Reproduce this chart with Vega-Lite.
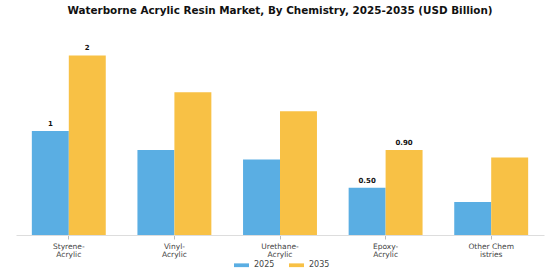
{
  "$schema": "https://vega.github.io/schema/vega-lite/v6.json",
  "width": 528,
  "height": 189,
  "autosize": "none",
  "padding": {"left": 16, "top": 46, "right": 16, "bottom": 45},
  "background": "white",
  "title": {
    "text": "Waterborne Acrylic Resin Market, By Chemistry, 2025-2035 (USD Billion)",
    "font": "DejaVu Sans",
    "fontSize": 10.4,
    "fontWeight": "bold",
    "color": "#111111",
    "anchor": "middle",
    "offset": 28
  },
  "data": {
    "values": [
      {"chem": "Styrene-|Acrylic", "year": "2025", "value": 1.1, "label": "1"},
      {"chem": "Styrene-|Acrylic", "year": "2035", "value": 1.9, "label": "2"},
      {"chem": "Vinyl-|Acrylic", "year": "2025", "value": 0.9, "label": ""},
      {"chem": "Vinyl-|Acrylic", "year": "2035", "value": 1.51, "label": ""},
      {"chem": "Urethane-|Acrylic", "year": "2025", "value": 0.8, "label": ""},
      {"chem": "Urethane-|Acrylic", "year": "2035", "value": 1.31, "label": ""},
      {"chem": "Epoxy-|Acrylic", "year": "2025", "value": 0.5, "label": "0.50"},
      {"chem": "Epoxy-|Acrylic", "year": "2035", "value": 0.9, "label": "0.90"},
      {"chem": "Other Chem|istries", "year": "2025", "value": 0.35, "label": ""},
      {"chem": "Other Chem|istries", "year": "2035", "value": 0.82, "label": ""}
    ]
  },
  "encoding": {
    "x": {
      "field": "chem",
      "type": "nominal",
      "sort": null,
      "title": null,
      "scale": {"paddingInner": 0.3, "paddingOuter": 0.15},
      "axis": {
        "labelExpr": "split(datum.label, '|')",
        "labelAngle": 0,
        "labelFont": "DejaVu Sans",
        "labelFontSize": 7.5,
        "labelColor": "#444444",
        "labelLineHeight": 8.5,
        "labelPadding": 3,
        "domainColor": "#dddddd",
        "tickColor": "#bbbbbb",
        "tickSize": 4,
        "grid": false
      }
    },
    "xOffset": {"field": "year", "type": "nominal"},
    "y": {
      "field": "value",
      "type": "quantitative",
      "scale": {"domain": [0, 2]},
      "axis": null
    }
  },
  "layer": [
    {
      "mark": {"type": "bar"},
      "encoding": {
        "color": {
          "field": "year",
          "type": "nominal",
          "title": null,
          "scale": {"domain": ["2025", "2035"], "range": ["#5AAEE3", "#F8C145"]},
          "legend": {
            "orient": "none",
            "legendX": 218,
            "legendY": 211.5,
            "direction": "horizontal",
            "symbolType": "M-1,-0.25L1,-0.25L1,0.25L-1,0.25Z",
            "symbolSize": 225,
            "symbolStrokeWidth": 0,
            "labelFont": "DejaVu Sans",
            "labelFontSize": 8,
            "labelColor": "#444444",
            "labelOffset": 5,
            "columnPadding": 14
          }
        }
      }
    },
    {
      "mark": {"type": "text", "dy": -7, "font": "DejaVu Sans", "fontSize": 7, "fontWeight": "bold", "color": "#111111"},
      "encoding": {
        "text": {"field": "label"}
      }
    }
  ],
  "config": {"view": {"stroke": null}}
}
